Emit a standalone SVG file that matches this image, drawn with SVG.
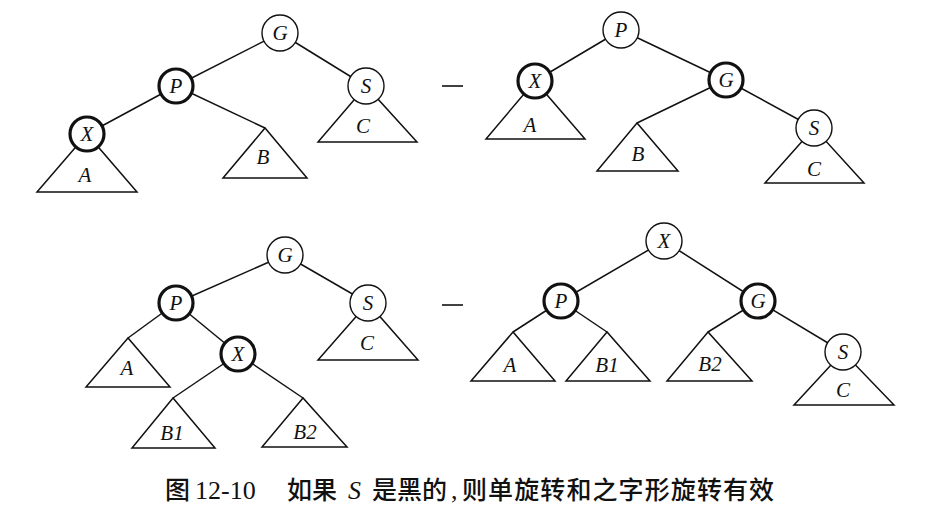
<svg xmlns="http://www.w3.org/2000/svg" width="925" height="520" viewBox="0 0 925 520">
<style>
.bg{fill:#fff}
.e{stroke:#111;stroke-width:1.5;fill:none}
.t{stroke:#111;stroke-width:1.5;fill:#fff;stroke-linejoin:miter}
.n{stroke:#111;stroke-width:1.4;fill:#fff}
.nb{stroke:#111;stroke-width:3.2;fill:#fff}
.l{font-family:"Liberation Serif",serif;font-style:italic;font-size:21px;fill:#111;text-anchor:middle}
.d{stroke:#111;stroke-width:1.6}
.cap{font-family:"Noto Sans CJK SC",sans-serif;font-size:25px;font-weight:500;fill:#111}
.capr{font-family:"Liberation Serif",serif;font-size:26px;fill:#111}
</style>
<rect class="bg" width="925" height="520"/>

<!-- ===== Tree 1 (top-left) ===== -->
<g id="connectors1">
<line class="e" x1="280" y1="33" x2="176" y2="86"/>
<line class="e" x1="280" y1="33" x2="366" y2="86"/>
<line class="e" x1="176" y1="86" x2="87" y2="134"/>
<line class="e" x1="176" y1="86" x2="265" y2="128"/>
</g>
<g id="t1-A"><polygon class="t" points="87,134 37,192 137,192"/><text class="l" x="85" y="182">A</text></g>
<g id="t1-B"><polygon class="t" points="265,128 223,178 307,178"/><text class="l" x="263" y="164">B</text></g>
<g id="t1-C"><polygon class="t" points="366,86 318,142 417,142"/><text class="l" x="363" y="133">C</text></g>
<g id="t1-G"><circle class="n" cx="280" cy="33" r="18"/><text class="l" x="280" y="40">G</text></g>
<g id="t1-P"><circle class="nb" cx="176" cy="86" r="17"/><text class="l" x="176" y="93">P</text></g>
<g id="t1-S"><circle class="n" cx="366" cy="86" r="18"/><text class="l" x="366" y="93">S</text></g>
<g id="t1-X"><circle class="nb" cx="87" cy="134" r="17"/><text class="l" x="87" y="141">X</text></g>

<line id="dash1" class="d" x1="442" y1="86" x2="463" y2="86"/>

<!-- ===== Tree 2 (top-right) ===== -->
<g id="connectors2">
<line class="e" x1="621" y1="30" x2="535" y2="81"/>
<line class="e" x1="621" y1="30" x2="726" y2="80"/>
<line class="e" x1="726" y1="80" x2="637" y2="123"/>
<line class="e" x1="726" y1="80" x2="814" y2="128"/>
</g>
<g id="t2-A"><polygon class="t" points="535,81 486,139 585,139"/><text class="l" x="530" y="132">A</text></g>
<g id="t2-B"><polygon class="t" points="637,123 597,171 678,171"/><text class="l" x="638" y="161">B</text></g>
<g id="t2-C"><polygon class="t" points="814,128 765,183 864,183"/><text class="l" x="814" y="176">C</text></g>
<g id="t2-P"><circle class="n" cx="621" cy="30" r="18"/><text class="l" x="621" y="37">P</text></g>
<g id="t2-X"><circle class="nb" cx="535" cy="81" r="17"/><text class="l" x="535" y="88">X</text></g>
<g id="t2-G"><circle class="nb" cx="726" cy="80" r="17"/><text class="l" x="726" y="87">G</text></g>
<g id="t2-S"><circle class="n" cx="814" cy="128" r="18"/><text class="l" x="814" y="135">S</text></g>

<!-- ===== Tree 3 (bottom-left) ===== -->
<g id="connectors3">
<line class="e" x1="285" y1="255" x2="176" y2="303"/>
<line class="e" x1="285" y1="255" x2="368" y2="303"/>
<line class="e" x1="176" y1="303" x2="128" y2="338"/>
<line class="e" x1="176" y1="303" x2="238" y2="354"/>
<line class="e" x1="238" y1="354" x2="173" y2="398"/>
<line class="e" x1="238" y1="354" x2="303" y2="398"/>
</g>
<g id="t3-A"><polygon class="t" points="128,338 86,387 170,387"/><text class="l" x="127" y="375">A</text></g>
<g id="t3-C"><polygon class="t" points="368,303 318,360 418,360"/><text class="l" x="367" y="350">C</text></g>
<g id="t3-B1"><polygon class="t" points="173,398 132,448 215,448"/><text class="l" x="172" y="440">B1</text></g>
<g id="t3-B2"><polygon class="t" points="303,398 262,447 347,447"/><text class="l" x="305" y="439">B2</text></g>
<g id="t3-G"><circle class="n" cx="285" cy="255" r="18"/><text class="l" x="285" y="262">G</text></g>
<g id="t3-P"><circle class="nb" cx="176" cy="303" r="17"/><text class="l" x="176" y="310">P</text></g>
<g id="t3-S"><circle class="n" cx="368" cy="303" r="18"/><text class="l" x="368" y="310">S</text></g>
<g id="t3-X"><circle class="nb" cx="238" cy="354" r="17"/><text class="l" x="238" y="361">X</text></g>

<line id="dash2" class="d" x1="442" y1="305" x2="463" y2="305"/>

<!-- ===== Tree 4 (bottom-right) ===== -->
<g id="connectors4">
<line class="e" x1="664" y1="241" x2="561" y2="301"/>
<line class="e" x1="664" y1="241" x2="758" y2="301"/>
<line class="e" x1="561" y1="301" x2="513" y2="332"/>
<line class="e" x1="561" y1="301" x2="607" y2="332"/>
<line class="e" x1="758" y1="301" x2="708" y2="332"/>
<line class="e" x1="758" y1="301" x2="843" y2="352"/>
</g>
<g id="t4-A"><polygon class="t" points="513,332 471,381 555,381"/><text class="l" x="510" y="372">A</text></g>
<g id="t4-B1"><polygon class="t" points="607,332 566,381 650,381"/><text class="l" x="607" y="372">B1</text></g>
<g id="t4-B2"><polygon class="t" points="708,332 667,381 752,381"/><text class="l" x="710" y="371">B2</text></g>
<g id="t4-C"><polygon class="t" points="843,352 794,405 894,405"/><text class="l" x="843" y="397">C</text></g>
<g id="t4-X"><circle class="n" cx="664" cy="241" r="18"/><text class="l" x="664" y="248">X</text></g>
<g id="t4-P"><circle class="nb" cx="561" cy="301" r="17"/><text class="l" x="561" y="308">P</text></g>
<g id="t4-G"><circle class="nb" cx="758" cy="301" r="17"/><text class="l" x="758" y="308">G</text></g>
<g id="t4-S"><circle class="n" cx="843" cy="352" r="18"/><text class="l" x="843" y="359">S</text></g>

<!-- ===== Caption ===== -->
<g id="caption">
<text class="cap" x="165" y="499">图</text>
<text class="capr" x="195" y="499">12-10</text>
<text class="cap" x="287" y="499">如果</text>
<text class="capr" x="348" y="499" font-style="italic">S</text>
<text class="cap" x="372" y="499">是黑的</text>
<text class="capr" x="451" y="499">,</text>
<text class="cap" x="462" y="499" letter-spacing="1.1">则单旋转和之字形旋转有效</text>
</g>
</svg>
